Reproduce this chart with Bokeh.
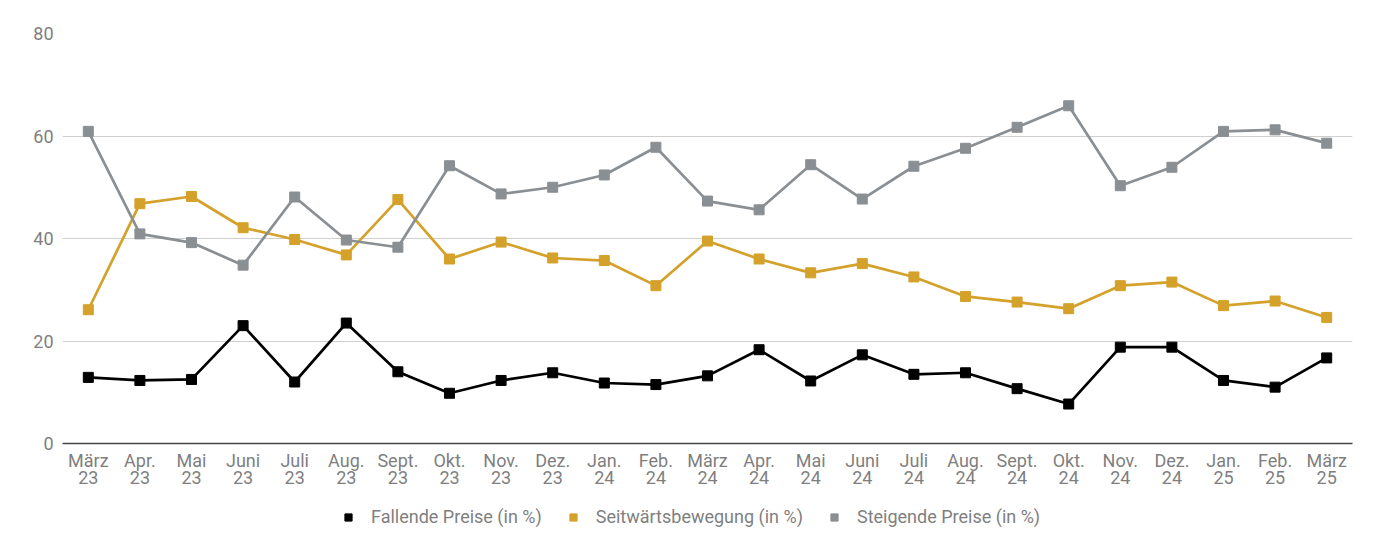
from bokeh.plotting import figure
from bokeh.layouts import column
from bokeh.models import Range1d, FactorRange, Legend, LegendItem, FixedTicker
from bokeh.embed import file_html
from bokeh.resources import INLINE

months = ["März\n23", "Apr.\n23", "Mai\n23", "Juni\n23", "Juli\n23", "Aug.\n23", "Sept.\n23",
          "Okt.\n23", "Nov.\n23", "Dez.\n23", "Jan.\n24", "Feb.\n24", "März\n24", "Apr.\n24",
          "Mai\n24", "Juni\n24", "Juli\n24", "Aug.\n24", "Sept.\n24", "Okt.\n24", "Nov.\n24",
          "Dez.\n24", "Jan.\n25", "Feb.\n25", "März\n25"]

fallend = [12.9, 12.3, 12.5, 23.0, 12.0, 23.5, 14.0, 9.8, 12.3, 13.8, 11.8, 11.5, 13.2, 18.3,
           12.2, 17.3, 13.5, 13.8, 10.7, 7.7, 18.8, 18.8, 12.3, 11.0, 16.7]
seitwaerts = [26.1, 46.8, 48.2, 42.1, 39.8, 36.8, 47.6, 36.0, 39.3, 36.2, 35.7, 30.8, 39.5, 36.0,
              33.3, 35.1, 32.5, 28.7, 27.6, 26.3, 30.8, 31.5, 26.9, 27.8, 24.6]
steigend = [60.9, 40.9, 39.2, 34.8, 48.1, 39.7, 38.3, 54.2, 48.7, 50.0, 52.4, 57.8, 47.3, 45.6,
            54.4, 47.7, 54.1, 57.6, 61.7, 65.9, 50.3, 53.9, 60.9, 61.2, 58.6]

series_names = ["Fallende Preise (in %)", "Seitwärtsbewegung (in %)", "Steigende Preise (in %)"]
series_colors = ["#000000", "#D4A12A", "#8A8F94"]
y_ticks = [0, 20, 40, 60, 80]

FONT = "Roboto"
TXT = "#7f7f7f"

p = figure(frame_width=1290, frame_height=410, x_range=FactorRange(*months), y_range=Range1d(0, 80),
           output_backend="svg", toolbar_location=None,
           min_border_left=62, min_border_right=7, min_border_top=33, min_border_bottom=0)
p.outline_line_color = None
p.background_fill_color = "white"

for vals, col in zip([fallend, seitwaerts, steigend], series_colors):
    p.line(months, vals, line_color=col, line_width=2.7)
    p.scatter(months, vals, marker="square", size=10, fill_color=col, line_color=col)

p.yaxis.ticker = FixedTicker(ticks=y_ticks)
p.yaxis.axis_line_color = None
p.yaxis.major_tick_line_color = None
p.yaxis.minor_tick_line_color = None
p.yaxis.major_tick_out = 0
p.yaxis.major_label_text_color = TXT
p.yaxis.major_label_text_font = FONT
p.yaxis.major_label_text_font_size = "18px"
p.yaxis.major_label_standoff = 9

p.xaxis.axis_line_color = "#444444"
p.xaxis.axis_line_width = 1.5
p.xaxis.major_tick_line_color = None
p.xaxis.minor_tick_line_color = None
p.xaxis.major_tick_out = 0
p.xaxis.major_label_text_color = TXT
p.xaxis.major_label_text_font = FONT
p.xaxis.major_label_text_font_size = "18px"
p.xaxis.major_label_standoff = 6
p.xaxis.major_label_text_line_height = 0.85

p.xgrid.grid_line_color = None
p.ygrid.grid_line_color = "#cfcfcf"
p.ygrid.grid_line_width = 1

# legend strip: same series, drawn outside the visible y range so only the legend shows
lg = figure(width=1359, height=37, x_range=p.x_range, y_range=Range1d(1000, 1001),
            output_backend="svg", toolbar_location=None,
            min_border_left=0, min_border_right=0, min_border_top=0, min_border_bottom=0)
lg.axis.visible = False
lg.grid.grid_line_color = None
lg.outline_line_color = None
items = []
for name, vals, col in zip(series_names, [fallend, seitwaerts, steigend], series_colors):
    r = lg.scatter(months, vals, marker="square", size=12, fill_color=col, line_color=col)
    items.append(LegendItem(label=name, renderers=[r]))

legend = Legend(items=items, orientation="horizontal", location=(277, 1),
                label_text_font=FONT, label_text_font_size="18px", label_text_color=TXT,
                glyph_width=18, glyph_height=18, spacing=22, label_standoff=14,
                border_line_color=None, background_fill_alpha=0, margin=0, padding=4)
lg.add_layout(legend, "center")

layout = column(p, lg, spacing=0)
open("out.html", "w").write(file_html(layout, INLINE))
